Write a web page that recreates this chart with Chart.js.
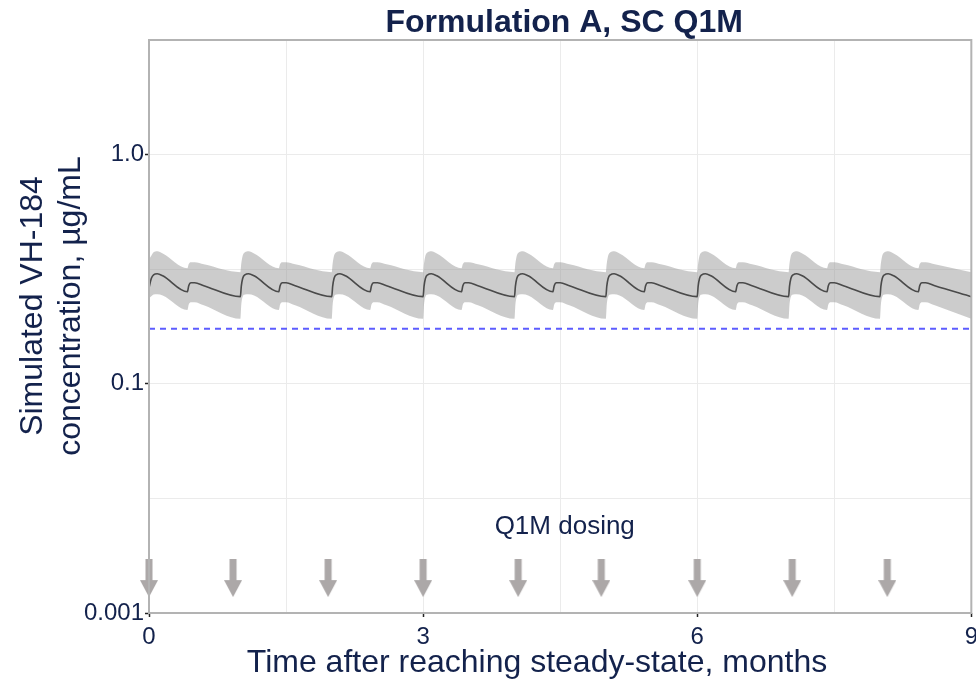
<!DOCTYPE html>
<html>
<head>
<meta charset="utf-8">
<title>Formulation A, SC Q1M</title>
<script src="https://cdn.jsdelivr.net/npm/chart.js@4.4.1/dist/chart.umd.min.js"></script>
<style>
  html, body { margin: 0; padding: 0; background: #fff; overflow: hidden; width: 976px; height: 679px; }
  /* a bit wider than the window so the last x label is cut off like in the original */
  #wrap { position: relative; width: 984px; height: 679px; }
</style>
</head>
<body>
<div id="wrap"><canvas id="pkChart"></canvas></div>
<script>
// ---- data ----
const chartTitle = 'Formulation A, SC Q1M';
const xTitle = 'Time after reaching steady-state, months';
const yTitle = ['Simulated VH-184', 'concentration, µg/mL'];

// time points (months)
const months = [
  0, 0.025, 0.05, 0.09, 0.15, 0.42, 0.435, 0.46, 0.5, 0.6,
  1, 1.01, 1.025, 1.05, 1.09, 1.15, 1.42, 1.435, 1.46, 1.5, 1.6,
  2, 2.01, 2.025, 2.05, 2.09, 2.15, 2.42, 2.435, 2.46, 2.5, 2.6,
  3, 3.01, 3.025, 3.05, 3.09, 3.15, 3.42, 3.435, 3.46, 3.5, 3.6,
  4, 4.01, 4.025, 4.05, 4.09, 4.15, 4.42, 4.435, 4.46, 4.5, 4.6,
  5, 5.01, 5.025, 5.05, 5.09, 5.15, 5.42, 5.435, 5.46, 5.5, 5.6,
  6, 6.01, 6.025, 6.05, 6.09, 6.15, 6.42, 6.435, 6.46, 6.5, 6.6,
  7, 7.01, 7.025, 7.05, 7.09, 7.15, 7.42, 7.435, 7.46, 7.5, 7.6,
  8, 8.01, 8.025, 8.05, 8.09, 8.15, 8.42, 8.435, 8.46, 8.5, 8.6,
  9
];

// median concentration (µg/mL)
const median = [
  0.262, 0.288, 0.299, 0.302, 0.296, 0.252, 0.268, 0.276, 0.276, 0.268,
  0.240, 0.266, 0.288, 0.299, 0.302, 0.296, 0.252, 0.268, 0.276, 0.276, 0.268,
  0.240, 0.266, 0.288, 0.299, 0.302, 0.296, 0.252, 0.268, 0.276, 0.276, 0.268,
  0.240, 0.266, 0.288, 0.299, 0.302, 0.296, 0.252, 0.268, 0.276, 0.276, 0.268,
  0.240, 0.266, 0.288, 0.299, 0.302, 0.296, 0.252, 0.268, 0.276, 0.276, 0.268,
  0.240, 0.266, 0.288, 0.299, 0.302, 0.296, 0.252, 0.268, 0.276, 0.276, 0.268,
  0.240, 0.266, 0.288, 0.299, 0.302, 0.296, 0.252, 0.268, 0.276, 0.276, 0.268,
  0.240, 0.266, 0.288, 0.299, 0.302, 0.296, 0.252, 0.268, 0.276, 0.276, 0.268,
  0.240, 0.266, 0.288, 0.299, 0.302, 0.296, 0.252, 0.268, 0.276, 0.276, 0.268,
  0.240
];

// upper / lower limit of the shaded interval
const upper = [
  0.350, 0.362, 0.375, 0.379, 0.370, 0.319, 0.333, 0.339, 0.339, 0.332,
  0.307, 0.335, 0.362, 0.375, 0.379, 0.370, 0.319, 0.333, 0.339, 0.339, 0.332,
  0.307, 0.335, 0.362, 0.375, 0.379, 0.370, 0.319, 0.333, 0.339, 0.339, 0.332,
  0.307, 0.335, 0.362, 0.375, 0.379, 0.370, 0.319, 0.333, 0.339, 0.339, 0.332,
  0.307, 0.335, 0.362, 0.375, 0.379, 0.370, 0.319, 0.333, 0.339, 0.339, 0.332,
  0.307, 0.335, 0.362, 0.375, 0.379, 0.370, 0.319, 0.333, 0.339, 0.339, 0.332,
  0.307, 0.335, 0.362, 0.375, 0.379, 0.370, 0.319, 0.333, 0.339, 0.339, 0.332,
  0.307, 0.335, 0.362, 0.375, 0.379, 0.370, 0.319, 0.333, 0.339, 0.339, 0.332,
  0.307, 0.335, 0.362, 0.375, 0.379, 0.370, 0.319, 0.333, 0.339, 0.339, 0.332,
  0.307
];

const lower = [
  0.236, 0.241, 0.245, 0.246, 0.243, 0.210, 0.222, 0.227, 0.227, 0.220,
  0.192, 0.222, 0.240, 0.245, 0.246, 0.243, 0.210, 0.222, 0.227, 0.227, 0.220,
  0.192, 0.222, 0.240, 0.245, 0.246, 0.243, 0.210, 0.222, 0.227, 0.227, 0.220,
  0.192, 0.222, 0.240, 0.245, 0.246, 0.243, 0.210, 0.222, 0.227, 0.227, 0.220,
  0.192, 0.222, 0.240, 0.245, 0.246, 0.243, 0.210, 0.222, 0.227, 0.227, 0.220,
  0.192, 0.222, 0.240, 0.245, 0.246, 0.243, 0.210, 0.222, 0.227, 0.227, 0.220,
  0.192, 0.222, 0.240, 0.245, 0.246, 0.243, 0.210, 0.222, 0.227, 0.227, 0.220,
  0.192, 0.222, 0.240, 0.245, 0.246, 0.243, 0.210, 0.222, 0.227, 0.227, 0.220,
  0.192, 0.222, 0.240, 0.245, 0.246, 0.243, 0.210, 0.222, 0.227, 0.227, 0.220,
  0.192
];

// dashed target line
const targetMonths = [0, 9];
const targetConc = [0.174, 0.174];

// dosing arrows
const doseMonths = [0, 0.92, 1.96, 3.0, 4.04, 4.95, 6.0, 7.04, 8.08];
const doseMarkerConc = [0.0142, 0.0142, 0.0142, 0.0142, 0.0142, 0.0142, 0.0142, 0.0142, 0.0142];
const doseLabel = 'Q1M dosing';
const doseLabelAt = { x: 4.55, y: 0.0237 };

// axes
const xGrid = [0, 1.5, 3, 4.5, 6, 7.5, 9];
const xTickValues = [0, 3, 6, 9];
const yGrid = [0.01, 0.0316, 0.1, 0.316, 1, 3.162];
const yTickValues = [0.01, 0.1, 1];
const yTickLabels = ['0.001', '0.1', '1.0'];

// ---- helpers ----
const FONT = "'Liberation Sans', Arial, sans-serif";
const textColor = '#13224c';
const gridColor = '#ebebeb';

const toPoints = (xs, ys) => xs.map((x, i) => ({ x: x, y: ys[i] }));
const isIn = (list, v) => list.some(t => Math.abs(t - v) <= Math.abs(t) * 1e-6 + 1e-9);

function makeArrow() {
    const c = document.createElement('canvas');
    c.width = 18;
    c.height = 38;
    const g = c.getContext('2d');
    g.fillStyle = '#aca8a8';
    g.fillRect(5.5, 0, 7, 22);
    g.beginPath();
    g.moveTo(0, 21);
    g.lineTo(18, 21);
    g.lineTo(9, 38);
    g.closePath();
    g.fill();
    return c;
}

// panel border drawn on top of the data
const panelBorder = {
    id: 'panelBorder',
    afterDatasetsDraw(chart) {
        const { ctx, chartArea: a } = chart;
        ctx.save();
        ctx.strokeStyle = '#b3b3b3';
        ctx.lineWidth = 2;
        ctx.strokeRect(a.left, a.top, a.right - a.left, a.bottom - a.top);
        ctx.restore();
    }
};

// title, axis titles and the dosing note
const chartText = {
    id: 'chartText',
    afterDraw(chart) {
        const { ctx, chartArea: a, scales } = chart;
        ctx.save();
        ctx.fillStyle = textColor;
        ctx.textAlign = 'center';
        ctx.textBaseline = 'alphabetic';

        ctx.font = 'bold 32px ' + FONT;
        ctx.fillText(chartTitle, (a.left + a.right) / 2 + 4, 32);

        ctx.font = '32px ' + FONT;
        ctx.fillText(xTitle, 537, 672);

        yTitle.forEach((line, i) => {
            ctx.save();
            ctx.translate(42 + i * 38, 306);
            ctx.rotate(-Math.PI / 2);
            ctx.fillText(line, 0, 0);
            ctx.restore();
        });

        ctx.font = '26px ' + FONT;
        ctx.textBaseline = 'middle';
        ctx.fillText(doseLabel, scales.x.getPixelForValue(doseLabelAt.x), scales.y.getPixelForValue(doseLabelAt.y));
        ctx.restore();
    }
};

Chart.defaults.font.family = FONT;

new Chart(document.getElementById('pkChart'), {
    type: 'line',
    data: {
        datasets: [
            {
                label: 'Median',
                data: toPoints(months, median),
                borderColor: '#4a4a4a',
                borderWidth: 1.6,
                pointRadius: 0,
                fill: false,
                cubicInterpolationMode: 'monotone',
                order: 0
            },
            {
                label: 'Target',
                data: toPoints(targetMonths, targetConc),
                borderColor: '#5c5cff',
                borderWidth: 2,
                borderDash: [6, 5],
                pointRadius: 0,
                fill: false,
                order: 1
            },
            {
                label: 'Dose',
                data: toPoints(doseMonths, doseMarkerConc),
                showLine: false,
                pointStyle: makeArrow(),
                pointRadius: 10,
                clip: false,
                order: 1
            },
            {
                label: 'Upper',
                data: toPoints(months, upper),
                borderColor: 'transparent',
                borderWidth: 0,
                backgroundColor: 'rgba(153,153,153,0.5)',
                pointRadius: 0,
                fill: '+1',
                cubicInterpolationMode: 'monotone',
                order: 2
            },
            {
                label: 'Lower',
                data: toPoints(months, lower),
                borderColor: 'transparent',
                borderWidth: 0,
                pointRadius: 0,
                fill: false,
                cubicInterpolationMode: 'monotone',
                order: 2
            }
        ]
    },
    options: {
        responsive: true,
        maintainAspectRatio: false,
        animation: false,
        events: [],
        layout: { padding: { top: 40, right: 3, bottom: 0, left: 0 } },
        plugins: {
            legend: { display: false },
            tooltip: { enabled: false },
            title: { display: false }
        },
        scales: {
            x: {
                type: 'linear',
                min: 0,
                max: 9,
                bounds: 'data',
                border: { display: false },
                grid: {
                    color: gridColor,
                    lineWidth: 1,
                    tickLength: 4,
                    tickWidth: 1.5,
                    tickColor: ctx => (ctx.tick && isIn(xTickValues, ctx.tick.value)) ? '#222' : 'transparent'
                },
                ticks: {
                    autoSkip: false,
                    maxRotation: 0,
                    padding: 6,
                    color: textColor,
                    font: { size: 24 },
                    callback: v => isIn(xTickValues, v) ? String(v) : ''
                },
                afterBuildTicks: scale => { scale.ticks = xGrid.map(v => ({ value: v })); },
                afterFit: scale => {
                    scale.height = 66;
                }
            },
            y: {
                type: 'logarithmic',
                min: 0.01,
                max: 3.162,
                bounds: 'data',
                border: { display: false },
                grid: {
                    color: gridColor,
                    lineWidth: 1,
                    tickLength: 4,
                    tickWidth: 1.5,
                    tickColor: ctx => (ctx.tick && isIn(yTickValues, ctx.tick.value)) ? '#222' : 'transparent'
                },
                ticks: {
                    autoSkip: false,
                    padding: 1,
                    color: textColor,
                    font: { size: 24 },
                    callback: v => {
                        const i = yTickValues.findIndex(t => Math.abs(t - v) <= t * 1e-6);
                        return i >= 0 ? yTickLabels[i] : '';
                    }
                },
                afterBuildTicks: scale => { scale.ticks = yGrid.map(v => ({ value: v })); },
                afterFit: scale => {
                    scale.width = 149;
                    scale.paddingTop = 0;
                    scale.paddingBottom = 0;
                }
            }
        }
    },
    plugins: [panelBorder, chartText]
});
</script>
</body>
</html>
